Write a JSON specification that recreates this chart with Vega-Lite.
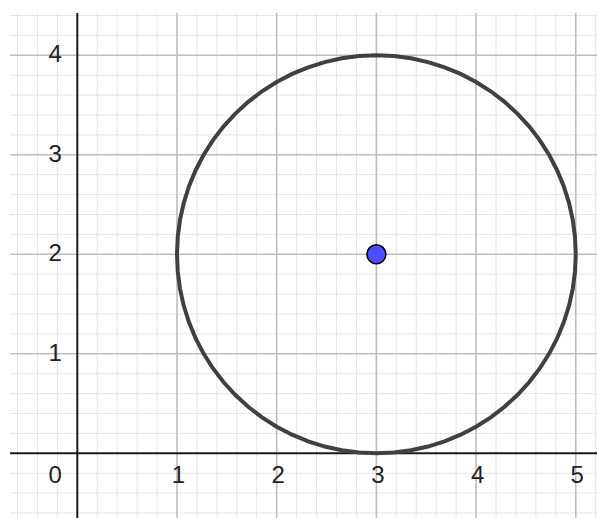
{
  "$schema": "https://vega.github.io/schema/vega-lite/v6.json",
  "width": 587,
  "height": 505,
  "padding": {"left": 10, "top": 13, "right": 0, "bottom": 0},
  "autosize": {"type": "none"},
  "background": "white",
  "config": {"view": {"stroke": null}},
  "datasets": {
    "vminor": [{"v": -0.6}, {"v": -0.4}, {"v": -0.2}, {"v": 0.2}, {"v": 0.4}, {"v": 0.6}, {"v": 0.8}, {"v": 1.2}, {"v": 1.4}, {"v": 1.6}, {"v": 1.8}, {"v": 2.2}, {"v": 2.4}, {"v": 2.6}, {"v": 2.8}, {"v": 3.2}, {"v": 3.4}, {"v": 3.6}, {"v": 3.8}, {"v": 4.2}, {"v": 4.4}, {"v": 4.6}, {"v": 4.8}, {"v": 5.2}],
    "hminor": [{"v": -0.6}, {"v": -0.4}, {"v": -0.2}, {"v": 0.2}, {"v": 0.4}, {"v": 0.6}, {"v": 0.8}, {"v": 1.2}, {"v": 1.4}, {"v": 1.6}, {"v": 1.8}, {"v": 2.2}, {"v": 2.4}, {"v": 2.6}, {"v": 2.8}, {"v": 3.2}, {"v": 3.4}, {"v": 3.6}, {"v": 3.8}, {"v": 4.2}, {"v": 4.4}],
    "vmajor": [{"v": 1}, {"v": 2}, {"v": 3}, {"v": 4}, {"v": 5}],
    "hmajor": [{"v": 1}, {"v": 2}, {"v": 3}, {"v": 4}],
    "circle": [
      {"t": 0, "x": 5, "y": 2}, {"t": 5, "x": 4.9924, "y": 2.1743}, {"t": 10, "x": 4.9696, "y": 2.3473}, {"t": 15, "x": 4.9319, "y": 2.5176}, {"t": 20, "x": 4.8794, "y": 2.684}, {"t": 25, "x": 4.8126, "y": 2.8452}, {"t": 30, "x": 4.7321, "y": 3.0}, {"t": 35, "x": 4.6383, "y": 3.1472}, {"t": 40, "x": 4.5321, "y": 3.2856}, {"t": 45, "x": 4.4142, "y": 3.4142}, {"t": 50, "x": 4.2856, "y": 3.5321}, {"t": 55, "x": 4.1472, "y": 3.6383}, {"t": 60, "x": 4.0, "y": 3.7321}, {"t": 65, "x": 3.8452, "y": 3.8126}, {"t": 70, "x": 3.684, "y": 3.8794}, {"t": 75, "x": 3.5176, "y": 3.9319}, {"t": 80, "x": 3.3473, "y": 3.9696}, {"t": 85, "x": 3.1743, "y": 3.9924}, {"t": 90, "x": 3, "y": 4},
      {"t": 95, "x": 2.8257, "y": 3.9924}, {"t": 100, "x": 2.6527, "y": 3.9696}, {"t": 105, "x": 2.4824, "y": 3.9319}, {"t": 110, "x": 2.316, "y": 3.8794}, {"t": 115, "x": 2.1548, "y": 3.8126}, {"t": 120, "x": 2.0, "y": 3.7321}, {"t": 125, "x": 1.8528, "y": 3.6383}, {"t": 130, "x": 1.7144, "y": 3.5321}, {"t": 135, "x": 1.5858, "y": 3.4142}, {"t": 140, "x": 1.4679, "y": 3.2856}, {"t": 145, "x": 1.3617, "y": 3.1472}, {"t": 150, "x": 1.2679, "y": 3.0}, {"t": 155, "x": 1.1874, "y": 2.8452}, {"t": 160, "x": 1.1206, "y": 2.684}, {"t": 165, "x": 1.0681, "y": 2.5176}, {"t": 170, "x": 1.0304, "y": 2.3473}, {"t": 175, "x": 1.0076, "y": 2.1743}, {"t": 180, "x": 1, "y": 2},
      {"t": 185, "x": 1.0076, "y": 1.8257}, {"t": 190, "x": 1.0304, "y": 1.6527}, {"t": 195, "x": 1.0681, "y": 1.4824}, {"t": 200, "x": 1.1206, "y": 1.316}, {"t": 205, "x": 1.1874, "y": 1.1548}, {"t": 210, "x": 1.2679, "y": 1.0}, {"t": 215, "x": 1.3617, "y": 0.8528}, {"t": 220, "x": 1.4679, "y": 0.7144}, {"t": 225, "x": 1.5858, "y": 0.5858}, {"t": 230, "x": 1.7144, "y": 0.4679}, {"t": 235, "x": 1.8528, "y": 0.3617}, {"t": 240, "x": 2.0, "y": 0.2679}, {"t": 245, "x": 2.1548, "y": 0.1874}, {"t": 250, "x": 2.316, "y": 0.1206}, {"t": 255, "x": 2.4824, "y": 0.0681}, {"t": 260, "x": 2.6527, "y": 0.0304}, {"t": 265, "x": 2.8257, "y": 0.0076}, {"t": 270, "x": 3, "y": 0},
      {"t": 275, "x": 3.1743, "y": 0.0076}, {"t": 280, "x": 3.3473, "y": 0.0304}, {"t": 285, "x": 3.5176, "y": 0.0681}, {"t": 290, "x": 3.684, "y": 0.1206}, {"t": 295, "x": 3.8452, "y": 0.1874}, {"t": 300, "x": 4.0, "y": 0.2679}, {"t": 305, "x": 4.1472, "y": 0.3617}, {"t": 310, "x": 4.2856, "y": 0.4679}, {"t": 315, "x": 4.4142, "y": 0.5858}, {"t": 320, "x": 4.5321, "y": 0.7144}, {"t": 325, "x": 4.6383, "y": 0.8528}, {"t": 330, "x": 4.7321, "y": 1.0}, {"t": 335, "x": 4.8126, "y": 1.1548}, {"t": 340, "x": 4.8794, "y": 1.316}, {"t": 345, "x": 4.9319, "y": 1.4824}, {"t": 350, "x": 4.9696, "y": 1.6527}, {"t": 355, "x": 4.9924, "y": 1.8257}, {"t": 360, "x": 5, "y": 2}
    ],
    "center": [{"x": 3, "y": 2}],
    "xlabels": [{"v": 1, "label": "1"}, {"v": 2, "label": "2"}, {"v": 3, "label": "3"}, {"v": 4, "label": "4"}, {"v": 5, "label": "5"}],
    "ylabels": [{"v": 1, "label": "1"}, {"v": 2, "label": "2"}, {"v": 3, "label": "3"}, {"v": 4, "label": "4"}],
    "origin": [{"x": 0, "y": 0, "label": "0"}],
    "axes0": [{"v": 0}]
  },
  "layer": [
    {
      "data": {"name": "vminor"},
      "mark": {"type": "rule", "color": "#e4e4e9", "strokeWidth": 1},
      "encoding": {"x": {"field": "v", "type": "quantitative", "scale": {"domain": [-0.675, 5.213], "nice": false, "zero": false}, "axis": null}}
    },
    {
      "data": {"name": "hminor"},
      "mark": {"type": "rule", "color": "#e4e4e9", "strokeWidth": 1},
      "encoding": {"y": {"field": "v", "type": "quantitative", "scale": {"domain": [-0.65, 4.425], "nice": false, "zero": false}, "axis": null}}
    },
    {
      "data": {"name": "vmajor"},
      "mark": {"type": "rule", "color": "#bcbcc6", "strokeWidth": 1.6},
      "encoding": {"x": {"field": "v", "type": "quantitative", "axis": null}}
    },
    {
      "data": {"name": "hmajor"},
      "mark": {"type": "rule", "color": "#bcbcc6", "strokeWidth": 1.6},
      "encoding": {"y": {"field": "v", "type": "quantitative", "axis": null}}
    },
    {
      "data": {"name": "axes0"},
      "mark": {"type": "rule", "color": "#1a1a1a", "strokeWidth": 2},
      "encoding": {"x": {"field": "v", "type": "quantitative", "axis": null}}
    },
    {
      "data": {"name": "axes0"},
      "mark": {"type": "rule", "color": "#1a1a1a", "strokeWidth": 2},
      "encoding": {"y": {"field": "v", "type": "quantitative", "axis": null}}
    },
    {
      "data": {"name": "circle"},
      "mark": {"type": "line", "color": "#404040", "strokeWidth": 4},
      "encoding": {
        "x": {"field": "x", "type": "quantitative", "axis": null},
        "y": {"field": "y", "type": "quantitative", "axis": null},
        "order": {"field": "t", "type": "quantitative"}
      }
    },
    {
      "data": {"name": "center"},
      "mark": {"type": "point", "shape": "circle", "filled": true, "fill": "#4d4dff", "stroke": "#000000", "strokeWidth": 1.6, "size": 360, "opacity": 1},
      "encoding": {
        "x": {"field": "x", "type": "quantitative", "axis": null},
        "y": {"field": "y", "type": "quantitative", "axis": null}
      }
    },
    {
      "data": {"name": "xlabels"},
      "mark": {"type": "text", "font": "Liberation Sans", "fontSize": 24, "color": "#222222", "align": "center", "baseline": "middle", "dx": 1.5, "dy": 23},
      "encoding": {
        "x": {"field": "v", "type": "quantitative", "axis": null},
        "y": {"datum": 0, "type": "quantitative", "axis": null},
        "text": {"field": "label"}
      }
    },
    {
      "data": {"name": "ylabels"},
      "mark": {"type": "text", "font": "Liberation Sans", "fontSize": 24, "color": "#222222", "align": "center", "baseline": "middle", "dx": -22},
      "encoding": {
        "x": {"datum": 0, "type": "quantitative", "axis": null},
        "y": {"field": "v", "type": "quantitative", "axis": null},
        "text": {"field": "label"}
      }
    },
    {
      "data": {"name": "origin"},
      "mark": {"type": "text", "font": "Liberation Sans", "fontSize": 24, "color": "#222222", "align": "center", "baseline": "middle", "dx": -22, "dy": 23},
      "encoding": {
        "x": {"field": "x", "type": "quantitative", "axis": null},
        "y": {"field": "y", "type": "quantitative", "axis": null},
        "text": {"field": "label"}
      }
    }
  ]
}
